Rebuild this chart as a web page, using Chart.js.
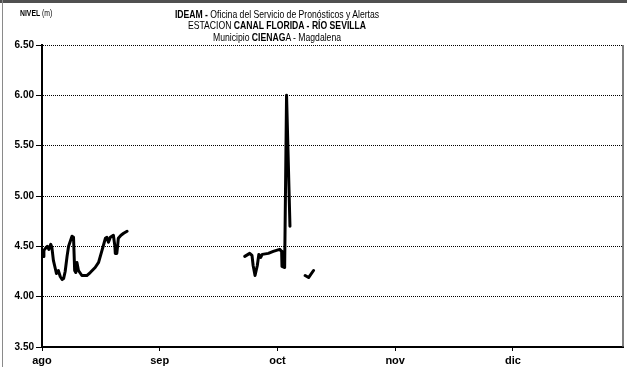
<!DOCTYPE html>
<html>
<head>
<meta charset="utf-8">
<script src="https://cdn.jsdelivr.net/npm/chart.js@4/dist/chart.umd.min.js"></script>
<style>
  body { margin: 0; background: #fff; }
  #marco { position: relative; width: 627px; height: 367px; overflow: hidden; }
  #bordeSup { position: absolute; left: 0; top: 0; width: 627px; height: 3px; background: #505050; }
  #bordeIzq { position: absolute; left: 2px; top: 0; width: 1px; height: 367px; background: #8a8a8a; }
  .tit { position: absolute; left: 100px; width: 354px; text-align: center;
         font-family: "Liberation Sans", Arial, sans-serif;
         font-size: 11.5px; line-height: 12px; color: #000; white-space: nowrap;
         transform: scaleX(0.75); transform-origin: 177px 0; }
  #nivel { position: absolute; left: 20px; top: 8px; font-family: "Liberation Sans", Arial, sans-serif;
           font-size: 9px; color: #000; white-space: nowrap; transform: scaleX(0.76); transform-origin: 0 0; }
</style>
</head>
<body>
<div id="marco">
  <canvas id="graph1" width="627" height="367"></canvas>
  <div id="bordeSup"></div>
  <div id="bordeIzq"></div>
  <div id="nivel"><b>NIVEL</b> (m)</div>
  <div class="tit" style="top:8px"><b>IDEAM -</b> Oficina del Servicio de Pronósticos y Alertas</div>
  <div class="tit" style="top:19px">ESTACION <b>CANAL FLORIDA - RÍO SEVILLA</b></div>
  <div class="tit" style="top:31px">Municipio <b>CIENAG</b>A - Magdalena</div>
</div>
<script>
// dias contados desde el 1 de agosto; null = sin dato (corte de la linea)
var dias = [
  0.3, 0.5, 0.9, 1.4, 1.8, 2.3, 2.6, 3.0, 3.5, 3.8, 4.3, 4.8, 5.3, 5.7, 6.1, 6.6, 7.0, 7.9, 8.3,
  8.6, 8.9, 9.2, 9.6, 10.5, 11.8, 12.7, 14.0, 14.9, 15.8, 16.7, 17.1, 17.5, 18.0, 18.8, 19.2,
  19.3, 19.7, 19.9, 20.1, 20.8, 21.5, 22.4,
  35,
  53.4, 54.7, 55.3, 55.6, 56.1, 56.7, 57.1, 57.6, 58.0, 59.6, 60.9, 62.6, 63.1, 63.2, 63.9, 64.4, 65.3,
  67,
  69.3, 70.2, 71.5
];
var nivel = [
  4.40, 4.46, 4.48, 4.50, 4.47, 4.52, 4.49, 4.36, 4.28, 4.23, 4.26, 4.20, 4.17, 4.18, 4.25, 4.40, 4.50, 4.60, 4.59,
  4.26, 4.24, 4.34, 4.26, 4.21, 4.21, 4.24, 4.29, 4.34, 4.46, 4.58, 4.59, 4.54, 4.59, 4.61, 4.50,
  4.43, 4.43, 4.50, 4.58, 4.61, 4.63, 4.65,
  null,
  4.40, 4.43, 4.41, 4.31, 4.21, 4.31, 4.42, 4.39, 4.42, 4.43, 4.45, 4.47, 4.45, 4.30, 4.29, 6.00, 4.70,
  null,
  4.21, 4.19, 4.26
];
var tickDias = [0, 31, 62, 93, 124];
var meses = ['ago', 'sep', 'oct', 'nov', 'dic'];
var nivelMin = 3.5, nivelMax = 6.5, nivelPaso = 0.5;

var puntos = dias.map(function(d, i) { return { x: d, y: nivel[i] }; });

var bordeDerecho = {
  id: 'bordeDerecho',
  afterDraw: function(chart) {
    var a = chart.chartArea, c = chart.ctx;
    c.save();
    c.strokeStyle = '#555';
    c.lineWidth = 1.5;
    c.beginPath();
    c.moveTo(a.right, a.top);
    c.lineTo(a.right, a.bottom);
    c.stroke();
    c.restore();
  }
};

document.addEventListener('DOMContentLoaded', function() {
  var ctx = document.querySelector('#graph1').getContext('2d');
  new Chart(ctx, {
    type: 'line',
    data: {
      datasets: [{
        label: 'Nivel',
        data: puntos,
        borderColor: '#000',
        backgroundColor: '#000',
        borderWidth: 3,
        pointRadius: 0,
        tension: 0,
        spanGaps: false,
        borderJoinStyle: 'round',
        borderCapStyle: 'round'
      }]
    },
    options: {
      responsive: false,
      animation: false,
      devicePixelRatio: 1,
      layout: { padding: { top: 45, right: 4, left: 0, bottom: 0 } },
      plugins: { legend: { display: false }, tooltip: { enabled: false } },
      scales: {
        x: {
          type: 'linear',
          min: 0,
          max: 153,
          afterBuildTicks: function(scale) {
            scale.ticks = tickDias.map(function(v) { return { value: v }; });
          },
          afterFit: function(scale) { scale.height = 20; },
          grid: { drawOnChartArea: false, color: '#000', tickLength: 4 },
          border: { color: '#000', width: 2 },
          ticks: {
            color: '#000',
            padding: 3,
            maxRotation: 0,
            autoSkip: false,
            font: { family: '"Liberation Sans", Arial, sans-serif', size: 11, weight: 'bold' },
            callback: function(v) { return meses[tickDias.indexOf(v)]; }
          }
        },
        y: {
          min: nivelMin,
          max: nivelMax,
          afterFit: function(scale) { scale.width = 42; },
          grid: { color: '#000', tickBorderDash: [], tickLength: 6, lineWidth: 1 },
          border: { color: '#000', width: 2, dash: [1, 1] },
          ticks: {
            stepSize: nivelPaso,
            color: '#000',
            padding: 2,
            font: { family: '"Liberation Sans", Arial, sans-serif', size: 10, weight: 'bold' },
            callback: function(v) { return v.toFixed(2); }
          }
        }
      }
    },
    plugins: [bordeDerecho]
  });
});
</script>
</body>
</html>
